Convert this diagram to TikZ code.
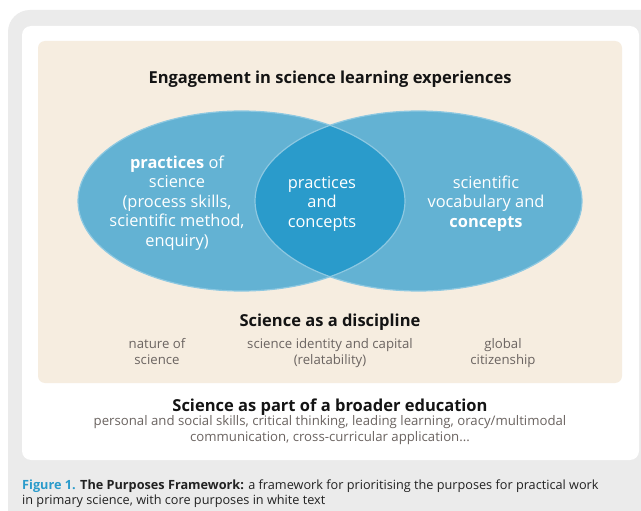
\documentclass[tikz,border=0pt]{standalone}
\usepackage{fontspec}
\setmainfont{Open Sans}
\definecolor{framegray}{HTML}{EBEBEB}
\definecolor{panelbeige}{HTML}{F6EDE0}
\definecolor{vennblue}{HTML}{63B2D3}
\definecolor{venndeep}{HTML}{2A9BCB}
\definecolor{vennedge}{HTML}{8DC8E1}
\definecolor{headtext}{HTML}{141414}
\definecolor{softtext}{HTML}{6B6461}
\definecolor{captionblue}{HTML}{2A9BCB}
\definecolor{captiontext}{HTML}{222222}
\tikzset{
  heading/.style={anchor=base, inner sep=0pt, text=headtext,
    font=\fontsize{16.5}{20}\selectfont\bfseries},
  venntext/.style={anchor=base, inner sep=0pt, align=center, text=white,
    font=\fontsize{16.4}{19.5}\selectfont},
  aside/.style={anchor=base, inner sep=0pt, align=center, text=softtext,
    font=\fontsize{13.2}{16}\selectfont},
  captionstyle/.style={anchor=base west, inner sep=0pt, align=left, text=captiontext,
    font=\fontsize{12.7}{15}\selectfont},
}
\begin{document}
\begin{tikzpicture}[x=1pt,y=-1pt]
\useasboundingbox (0,0) rectangle (641,511);
\clip (0,0) rectangle (641,511);
\fill[white] (0,0) rectangle (641,511);
% frame, white card and beige panel
\fill[framegray, rounded corners=22pt] (8,10) rectangle (680,545);
\fill[white, rounded corners=9pt] (22,26) rectangle (639,460);
\fill[panelbeige, rounded corners=7pt] (38,41) rectangle (622,383);
% two overlapping ellipses with a darker lens
\fill[vennblue] (241.5,201) ellipse[x radius=163.5pt, y radius=90pt];
\fill[vennblue] (418.5,201) ellipse[x radius=163.5pt, y radius=90pt];
\begin{scope}
  \clip (241.5,201) ellipse[x radius=163.5pt, y radius=90pt];
  \fill[venndeep] (418.5,201) ellipse[x radius=163.5pt, y radius=90pt];
\end{scope}
\draw[vennedge, line width=1.2pt] (241.5,201) ellipse[x radius=163.5pt, y radius=90pt];
\draw[vennedge, line width=1.2pt] (418.5,201) ellipse[x radius=163.5pt, y radius=90pt];
% headings (base = baseline of the last line)
\node[heading] (engage) at (330,84) {Engagement in science learning experiences};
\node[heading] (discipline) at (330,326) {Science as a discipline};
\node[heading] (broader) at (330,411) {Science as part of a broader education};
% ellipse texts
\node[venntext] (practices) at (177,246) {\textbf{practices} of\\science\\(process skills,\\scientific method,\\enquiry)};
\node[venntext] (overlap) at (322,227) {practices\\and\\concepts};
\node[venntext] (concepts) at (486,227) {scientific\\vocabulary and\\\textbf{concepts}};
% discipline asides
\node[aside] (nature) at (157,364) {nature of\\science};
\node[aside] (identity) at (330,364) {science identity and capital\\(relatability)};
\node[aside] (global) at (503,364) {global\\citizenship};
% broader education list
\node[aside] (skills) at (330,441) {personal and social skills, critical thinking, leading learning, oracy/multimodal\\communication, cross-curricular application...};
% caption
\node[captionstyle] (caption) at (22,504) {\textcolor{captionblue}{\bfseries Figure 1.} {\bfseries The Purposes Framework:} a framework for prioritising the purposes for practical work\\in primary science, with core purposes in white text};
\end{tikzpicture}
\end{document}
